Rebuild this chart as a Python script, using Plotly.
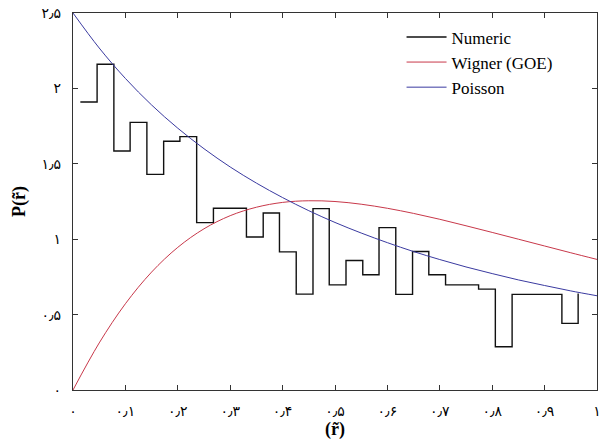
import plotly.graph_objects as go

# Numeric histogram (stairs): bin positions and heights
hist_r = [0.014, 0.046, 0.078, 0.109, 0.141, 0.173, 0.204, 0.236, 0.268, 0.299,
          0.331, 0.363, 0.394, 0.426, 0.458, 0.489, 0.521, 0.553, 0.584, 0.616,
          0.648, 0.679, 0.711, 0.743, 0.774, 0.806, 0.838, 0.869, 0.901, 0.933, 0.964]
hist_p = [1.91, 2.16, 1.585, 1.775, 1.43, 1.65, 1.68, 1.11, 1.205, 1.205,
          1.015, 1.174, 0.916, 0.636, 1.203, 0.697, 0.859, 0.764, 1.077, 0.634,
          0.918, 0.764, 0.697, 0.697, 0.669, 0.287, 0.634, 0.634, 0.634, 0.442, 0.64]

# Theoretical curves
curve_r = [0.0, 0.05, 0.1, 0.15, 0.2, 0.25, 0.3, 0.35, 0.4, 0.45, 0.5,
           0.55, 0.6, 0.65, 0.7, 0.75, 0.8, 0.85, 0.9, 0.95, 1.0]
wigner_p = [0.0, 0.312, 0.572, 0.782, 0.946, 1.069, 1.156, 1.212, 1.244, 1.255, 1.250,
            1.232, 1.205, 1.171, 1.132, 1.089, 1.045, 1.000, 0.955, 0.910, 0.866]
poisson_p = [2.5, 2.268, 2.066, 1.890, 1.736, 1.600, 1.479, 1.372, 1.276, 1.189, 1.111,
             1.041, 0.977, 0.918, 0.865, 0.816, 0.772, 0.730, 0.693, 0.657, 0.625]

x_ticks = [0, 0.1, 0.2, 0.3, 0.4, 0.5, 0.6, 0.7, 0.8, 0.9, 1.0]
x_tick_labels = ["۰", "۰٫۱", "۰٫۲", "۰٫۳", "۰٫۴", "۰٫۵", "۰٫۶", "۰٫۷", "۰٫۸", "۰٫۹", "۱"]
y_ticks = [0, 0.5, 1.0, 1.5, 2.0, 2.5]
y_tick_labels = ["۰", "۰٫۵", "۱", "۱٫۵", "۲", "۲٫۵"]

series_names = ["Numeric", "Wigner (GOE)", "Poisson"]

SERIF = "Liberation Serif, Times New Roman, serif"

fig = go.Figure()
fig.add_trace(go.Scatter(x=hist_r, y=hist_p, mode="lines", name=series_names[0],
                         line=dict(color="#111111", width=1.4, shape="hv")))
fig.add_trace(go.Scatter(x=curve_r, y=wigner_p, mode="lines", name=series_names[1],
                         line=dict(color="#c8384a", width=1, shape="spline")))
fig.add_trace(go.Scatter(x=curve_r, y=poisson_p, mode="lines", name=series_names[2],
                         line=dict(color="#3a3aa0", width=1, shape="spline")))

fig.update_layout(
    width=604, height=443,
    margin=dict(l=73, r=3, t=13, b=53),
    paper_bgcolor="white", plot_bgcolor="white",
    font=dict(family=SERIF, color="black"),
    showlegend=True,
    legend=dict(x=0.627, y=0.983, xanchor="left", yanchor="top",
                bgcolor="rgba(0,0,0,0)", borderwidth=0,
                font=dict(family=SERIF, size=17, color="black"),
                tracegroupgap=0, itemwidth=40),
    xaxis=dict(range=[0, 1], tickvals=x_ticks, ticktext=x_tick_labels,
               ticks="inside", ticklen=5, tickcolor="#333", showgrid=False,
               zeroline=False, showline=True, linecolor="#333", linewidth=1.2,
               mirror="ticks", ticklabelstandoff=8, ticklabeloverflow="allow",
               tickfont=dict(family="DejaVu Sans", size=14, color="black"),
               title=dict(text="<b>(r̃)</b>", standoff=2,
                          font=dict(family=SERIF, size=18, color="black"))),
    yaxis=dict(range=[0, 2.5], tickvals=y_ticks, ticktext=y_tick_labels,
               ticks="inside", ticklen=5, tickcolor="#333", showgrid=False,
               zeroline=False, showline=True, linecolor="#333", linewidth=1.2,
               mirror="ticks", ticklabelstandoff=8, ticklabeloverflow="allow",
               tickfont=dict(family="DejaVu Sans", size=14, color="black"),
               title=dict(text="<b>P(r̃)</b>", standoff=11,
                          font=dict(family=SERIF, size=18, color="black"))),
)

fig.write_html("out.html")
